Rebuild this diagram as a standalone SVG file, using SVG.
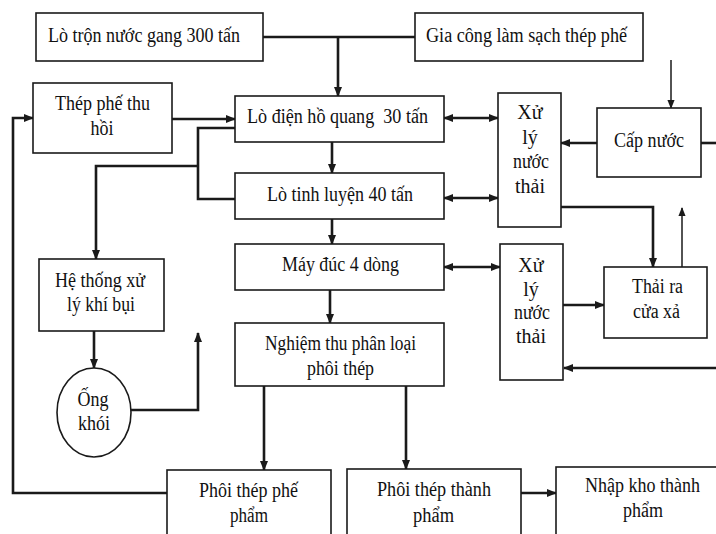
<svg xmlns="http://www.w3.org/2000/svg" width="716" height="534" viewBox="0 0 716 534">
  <defs>
    <style>
      .box { fill: #fff; stroke: #1a1a1a; stroke-width: 1.6; }
      .t { font-family: "Liberation Serif", "Times New Roman", serif; font-size: 20px; fill: #111; text-anchor: middle; }
      .c { fill: none; stroke: #1a1a1a; stroke-width: 2.6; }
      .thin { fill: none; stroke: #1a1a1a; stroke-width: 1.5; }
    </style>
    <marker id="ah" viewBox="0 0 10 8" refX="9" refY="4" markerWidth="10" markerHeight="8" markerUnits="userSpaceOnUse" orient="auto-start-reverse">
      <path d="M0,0 L10,4 L0,8 z" fill="#1a1a1a"/>
    </marker>
    <marker id="ahs" viewBox="0 0 10 8" refX="9" refY="4" markerWidth="9" markerHeight="8" markerUnits="userSpaceOnUse" orient="auto">
      <path d="M0,0 L10,4 L0,8 z" fill="#1a1a1a"/>
    </marker>
  </defs>
  <rect width="716" height="534" fill="#fff"/>

  <g id="connectors">
    <path class="c" d="M263,37 H415"/>
    <path class="c" d="M338,37 V96" marker-end="url(#ah)"/>
    <path class="c" d="M172,119 H235" marker-end="url(#ah)"/>
    <path class="c" d="M235,128 H198 V199 H235"/>
    <path class="c" d="M198,166 H96 V259" marker-end="url(#ah)"/>
    <path class="c" d="M332,142 V173" marker-end="url(#ah)"/>
    <path class="c" d="M332,219 V244" marker-end="url(#ah)"/>
    <path class="c" d="M330,290 V323" marker-end="url(#ah)"/>
    <path class="c" d="M94,331 V368" marker-end="url(#ah)"/>
    <path class="c" d="M131,410 H198 V333" marker-end="url(#ah)"/>
    <path class="c" d="M264,386 V470" marker-end="url(#ah)"/>
    <path class="c" d="M406,386 V469" marker-end="url(#ah)"/>
    <path class="c" d="M167,493 H13 V118 H33" marker-end="url(#ah)"/>
    <path class="c" d="M521,493 H556" marker-end="url(#ah)"/>
    <path class="c" d="M444,118 H498" marker-start="url(#ah)" marker-end="url(#ah)"/>
    <path class="c" d="M444,198 H498" marker-start="url(#ah)" marker-end="url(#ah)"/>
    <path class="c" d="M444,267 H500" marker-start="url(#ah)" marker-end="url(#ah)"/>
    <path class="c" d="M597,143 H561" marker-end="url(#ah)"/>
    <path class="c" d="M701,143 H716"/>
    <path class="thin" d="M671,60 V108" marker-end="url(#ahs)"/>
    <path class="c" d="M561,207 H653 V267" marker-end="url(#ah)"/>
    <path class="thin" d="M682,267 V208" marker-end="url(#ahs)"/>
    <path class="c" d="M563,305 H604" marker-end="url(#ah)"/>
    <path class="c" d="M716,368 H564" marker-end="url(#ah)"/>
  </g>

  <g id="lo-tron">
    <rect class="box" x="36" y="13" width="227" height="48"/>
    <text class="t" x="144" y="42" textLength="192" lengthAdjust="spacingAndGlyphs">Lò trộn nước gang 300 tấn</text>
  </g>
  <g id="gia-cong">
    <rect class="box" x="415" y="13" width="228" height="48"/>
    <text class="t" x="526.5" y="42" textLength="201" lengthAdjust="spacingAndGlyphs">Gia công làm sạch thép phế</text>
  </g>
  <g id="thep-phe">
    <rect class="box" x="33" y="83" width="139" height="70"/>
    <text class="t" x="102.5" y="110" textLength="95" lengthAdjust="spacingAndGlyphs">Thép phế thu</text>
    <text class="t" x="102" y="135" textLength="23" lengthAdjust="spacingAndGlyphs">hồi</text>
  </g>
  <g id="lo-dien">
    <rect class="box" x="235" y="96" width="209" height="46"/>
    <text class="t" x="337.5" y="123" textLength="181" lengthAdjust="spacingAndGlyphs" xml:space="preserve">Lò điện hồ quang  30 tấn</text>
  </g>
  <g id="lo-tinh-luyen">
    <rect class="box" x="235" y="173" width="209" height="46"/>
    <text class="t" x="340" y="201" textLength="146" lengthAdjust="spacingAndGlyphs">Lò tinh luyện 40 tấn</text>
  </g>
  <g id="may-duc">
    <rect class="box" x="235" y="244" width="209" height="46"/>
    <text class="t" x="340.5" y="271" textLength="117" lengthAdjust="spacingAndGlyphs">Máy đúc 4 dòng</text>
  </g>
  <g id="nghiem-thu">
    <rect class="box" x="235" y="323" width="209" height="63"/>
    <text class="t" x="340.5" y="350" textLength="151" lengthAdjust="spacingAndGlyphs">Nghiệm thu phân loại</text>
    <text class="t" x="340.5" y="375" textLength="67" lengthAdjust="spacingAndGlyphs">phôi thép</text>
  </g>
  <g id="he-thong">
    <rect class="box" x="39" y="259" width="125" height="72"/>
    <text class="t" x="100" y="287" textLength="90" lengthAdjust="spacingAndGlyphs">Hệ thống xử</text>
    <text class="t" x="101" y="311" textLength="68" lengthAdjust="spacingAndGlyphs">lý khí bụi</text>
  </g>
  <g id="ong-khoi">
    <ellipse class="box" cx="94" cy="412.5" rx="37" ry="44.5"/>
    <text class="t" x="93" y="406" textLength="31" lengthAdjust="spacingAndGlyphs">Ống</text>
    <text class="t" x="94" y="430" textLength="32" lengthAdjust="spacingAndGlyphs">khói</text>
  </g>
  <g id="xu-ly-1">
    <rect class="box" x="498" y="93" width="63" height="134"/>
    <text class="t" x="530" y="119">Xử</text>
    <text class="t" x="530" y="144">lý</text>
    <text class="t" x="531" y="168" textLength="36" lengthAdjust="spacingAndGlyphs">nước</text>
    <text class="t" x="530" y="193">thải</text>
  </g>
  <g id="cap-nuoc">
    <rect class="box" x="597" y="108" width="104" height="69"/>
    <text class="t" x="649" y="147" textLength="70" lengthAdjust="spacingAndGlyphs">Cấp nước</text>
  </g>
  <g id="xu-ly-2">
    <rect class="box" x="500" y="244" width="63" height="136"/>
    <text class="t" x="531" y="272">Xử</text>
    <text class="t" x="531" y="296">lý</text>
    <text class="t" x="532" y="319" textLength="36" lengthAdjust="spacingAndGlyphs">nước</text>
    <text class="t" x="531" y="343">thải</text>
  </g>
  <g id="thai-ra">
    <rect class="box" x="604" y="267" width="103" height="71"/>
    <text class="t" x="657.5" y="293" textLength="51" lengthAdjust="spacingAndGlyphs">Thải ra</text>
    <text class="t" x="656.5" y="318" textLength="47" lengthAdjust="spacingAndGlyphs">cửa xả</text>
  </g>
  <g id="phoi-phe-pham">
    <rect class="box" x="167" y="470" width="164" height="80"/>
    <text class="t" x="248.5" y="497" textLength="99" lengthAdjust="spacingAndGlyphs">Phôi thép phế</text>
    <text class="t" x="249" y="522" textLength="38" lengthAdjust="spacingAndGlyphs">phẩm</text>
  </g>
  <g id="phoi-thanh-pham">
    <rect class="box" x="347" y="469" width="174" height="80"/>
    <text class="t" x="434" y="496" textLength="114" lengthAdjust="spacingAndGlyphs">Phôi thép thành</text>
    <text class="t" x="433.5" y="522" textLength="41" lengthAdjust="spacingAndGlyphs">phẩm</text>
  </g>
  <g id="nhap-kho">
    <rect class="box" x="556" y="467" width="180" height="80"/>
    <text class="t" x="642.5" y="492" textLength="115" lengthAdjust="spacingAndGlyphs">Nhập kho thành</text>
    <text class="t" x="643" y="517" textLength="40" lengthAdjust="spacingAndGlyphs">phẩm</text>
  </g>
</svg>
